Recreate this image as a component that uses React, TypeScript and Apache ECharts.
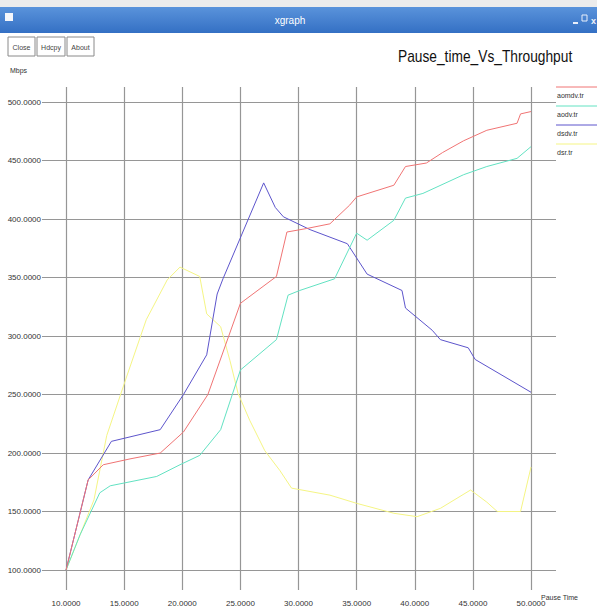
import React, { useEffect, useRef } from "react";
import * as echarts from "echarts";

// Tick positions on both axes
const xTicks = [10, 15, 20, 25, 30, 35, 40, 45, 50];
const yTicks = [100, 150, 200, 250, 300, 350, 400, 450, 500];

// Trace files plotted (pause time, throughput in Mbps)
const seriesNames = ["aomdv.tr", "aodv.tr", "dsdv.tr", "dsr.tr"];
const seriesColors = ["#f07474", "#62e2c2", "#5d55cc", "#f5f584"];

const aomdvData = [
  [10, 100], [11.9, 177], [13.2, 190], [15.5, 195], [18.1, 200], [20.1, 218], [22.2, 250],
  [25.0, 328], [25.4, 331], [28.1, 351], [29.0, 389], [30.7, 392], [32.7, 396], [34.4, 412],
  [35.0, 419], [38.2, 429], [39.2, 445], [41.0, 448], [42.4, 457], [44.2, 467], [46.2, 476],
  [48.8, 482], [49.1, 490], [50, 492],
];
const aodvData = [
  [10, 100], [11.2, 130], [12.9, 166], [13.8, 172], [17.8, 180], [19.8, 190], [21.5, 198],
  [23.3, 220], [25.0, 271], [28.1, 297], [29.1, 335], [30.1, 339], [33.1, 349], [35.0, 388],
  [35.9, 382], [38.2, 399], [39.2, 418], [40.7, 422], [44.2, 438], [46.2, 445], [48.8, 452],
  [50, 462],
];
const dsdvData = [
  [10, 100], [11.9, 177], [13.9, 210], [18.1, 220], [20.1, 250], [22.1, 284], [23.0, 336],
  [23.5, 349], [27.0, 431], [28.0, 410], [28.7, 402], [31.0, 391], [34.2, 379], [35.9, 353],
  [38.9, 339], [39.2, 324], [41.5, 305], [42.2, 297], [44.6, 290], [45.2, 280], [50, 252],
];
const dsrData = [
  [10, 100], [12.4, 160], [13.5, 215], [15.2, 265], [16.9, 314], [18.7, 348], [19.8, 359],
  [21.5, 351], [22.1, 319], [23.3, 308], [24.1, 279], [24.8, 251], [25.8, 228], [27.1, 202],
  [28.4, 185], [29.4, 170], [32.7, 164], [35.0, 157], [38.2, 148.5], [40.2, 145.6],
  [42.2, 152.7], [44.8, 168.4], [46.2, 158], [47.1, 150], [49.1, 150], [50, 188],
];
const seriesData = [aomdvData, aodvData, dsdvData, dsrData];

const titleText = "Pause_time_Vs_Throughput";
const yAxisTitle = "Mbps";
const xAxisTitle = "Pause Time";
const buttonLabels = ["Close", "Hdcpy", "About"];

const labelFont = "'Liberation Sans', Arial, sans-serif";

export default function App() {
  const ref = useRef<HTMLDivElement>(null);

  useEffect(() => {
    if (!ref.current) return;
    const chart = echarts.init(ref.current, null, { renderer: "svg" });

    const graphic: any[] = [
      // window frame: title bar
      { type: "rect", shape: { x: 0, y: 0, width: 597, height: 7 }, style: { fill: "#ececec" }, silent: true },
      {
        type: "rect",
        shape: { x: 0, y: 7, width: 597, height: 26 },
        style: {
          fill: new echarts.graphic.LinearGradient(0, 0, 0, 1, [
            { offset: 0, color: "#5a93db" },
            { offset: 1, color: "#3470c4" },
          ]),
        },
        silent: true,
      },
      { type: "rect", shape: { x: 5, y: 13, width: 8, height: 8 }, style: { fill: "#f4f6fb" }, silent: true },
      {
        type: "text",
        x: 290,
        y: 20,
        style: { text: "xgraph", fill: "#ffffff", font: `10px ${labelFont}`, align: "center", verticalAlign: "middle" },
        silent: true,
      },
      { type: "rect", shape: { x: 573, y: 22, width: 5, height: 2 }, style: { fill: "#e8eefa" }, silent: true },
      { type: "rect", shape: { x: 582, y: 15, width: 5, height: 6 }, style: { fill: "none", stroke: "#e8eefa", lineWidth: 1 }, silent: true },
      {
        type: "text",
        x: 591,
        y: 16,
        style: { text: "x", fill: "#f2f4fa", font: `bold 9px ${labelFont}` },
        silent: true,
      },
      // chart title, condensed horizontally
      {
        type: "text",
        x: 398,
        y: 56,
        scaleX: 0.86,
        style: { text: titleText, fill: "#111111", font: `16px ${labelFont}`, verticalAlign: "middle" },
        silent: true,
      },
      // axis titles
      {
        type: "text",
        x: 10,
        y: 70,
        style: { text: yAxisTitle, fill: "#333333", font: `7px ${labelFont}`, verticalAlign: "middle" },
        silent: true,
      },
      {
        type: "text",
        x: 541,
        y: 597,
        style: { text: xAxisTitle, fill: "#333333", font: `7px ${labelFont}`, verticalAlign: "middle" },
        silent: true,
      },
    ];

    // Buttons
    const btnX = [8, 37, 67];
    const btnW = [27, 28, 27];
    buttonLabels.forEach((label, i) => {
      graphic.push({
        type: "rect",
        shape: { x: btnX[i], y: 37, width: btnW[i], height: 19 },
        style: { fill: "#ffffff", stroke: "#8a8a8a", lineWidth: 1 },
        silent: true,
      });
      graphic.push({
        type: "text",
        x: btnX[i] + btnW[i] / 2,
        y: 47,
        style: { text: label, fill: "#444444", font: `7px ${labelFont}`, align: "center", verticalAlign: "middle" },
        silent: true,
      });
    });

    // Legend: coloured line with the file name below it
    seriesNames.forEach((name, i) => {
      const y = 87 + i * 19;
      graphic.push({
        type: "line",
        shape: { x1: 556, y1: y, x2: 597, y2: y },
        style: { stroke: seriesColors[i], lineWidth: 1 },
        silent: true,
      });
      graphic.push({
        type: "text",
        x: 557,
        y: y + 8,
        style: { text: name, fill: "#333333", font: `7px ${labelFont}`, verticalAlign: "middle" },
        silent: true,
      });
    });

    chart.setOption({
      animation: false,
      backgroundColor: "#ffffff",
      grid: { left: 42, right: 41, top: 87, bottom: 22, containLabel: false },
      xAxis: {
        type: "value",
        min: 7.93,
        max: 52.15,
        axisLine: { show: false },
        axisTick: { show: false, customValues: xTicks },
        axisLabel: {
          customValues: xTicks,
          formatter: (v: number) => v.toFixed(4),
          color: "#333333",
          fontFamily: labelFont,
          fontSize: 8,
          margin: 9,
        },
        splitLine: { show: true, lineStyle: { color: "#969696", width: 1.2 } },
      },
      yAxis: {
        type: "value",
        min: 82.9,
        max: 513,
        axisLine: { show: false },
        axisTick: { show: false, customValues: yTicks },
        axisLabel: {
          customValues: yTicks,
          formatter: (v: number) => v.toFixed(4),
          color: "#333333",
          fontFamily: labelFont,
          fontSize: 8,
          margin: 1,
        },
        splitLine: { show: true, lineStyle: { color: "#969696", width: 1.2 } },
      },
      series: seriesNames.map((name, i) => ({
        name,
        type: "line",
        data: seriesData[i],
        showSymbol: false,
        symbol: "none",
        lineStyle: { color: seriesColors[i], width: 1 },
        z: 10 - i,
      })),
      graphic,
    });

    return () => chart.dispose();
  }, []);

  return (
    <div
      ref={ref}
      style={{ position: "fixed", left: 0, top: 0, width: 597, height: 612, background: "#ffffff" }}
    />
  );
}
